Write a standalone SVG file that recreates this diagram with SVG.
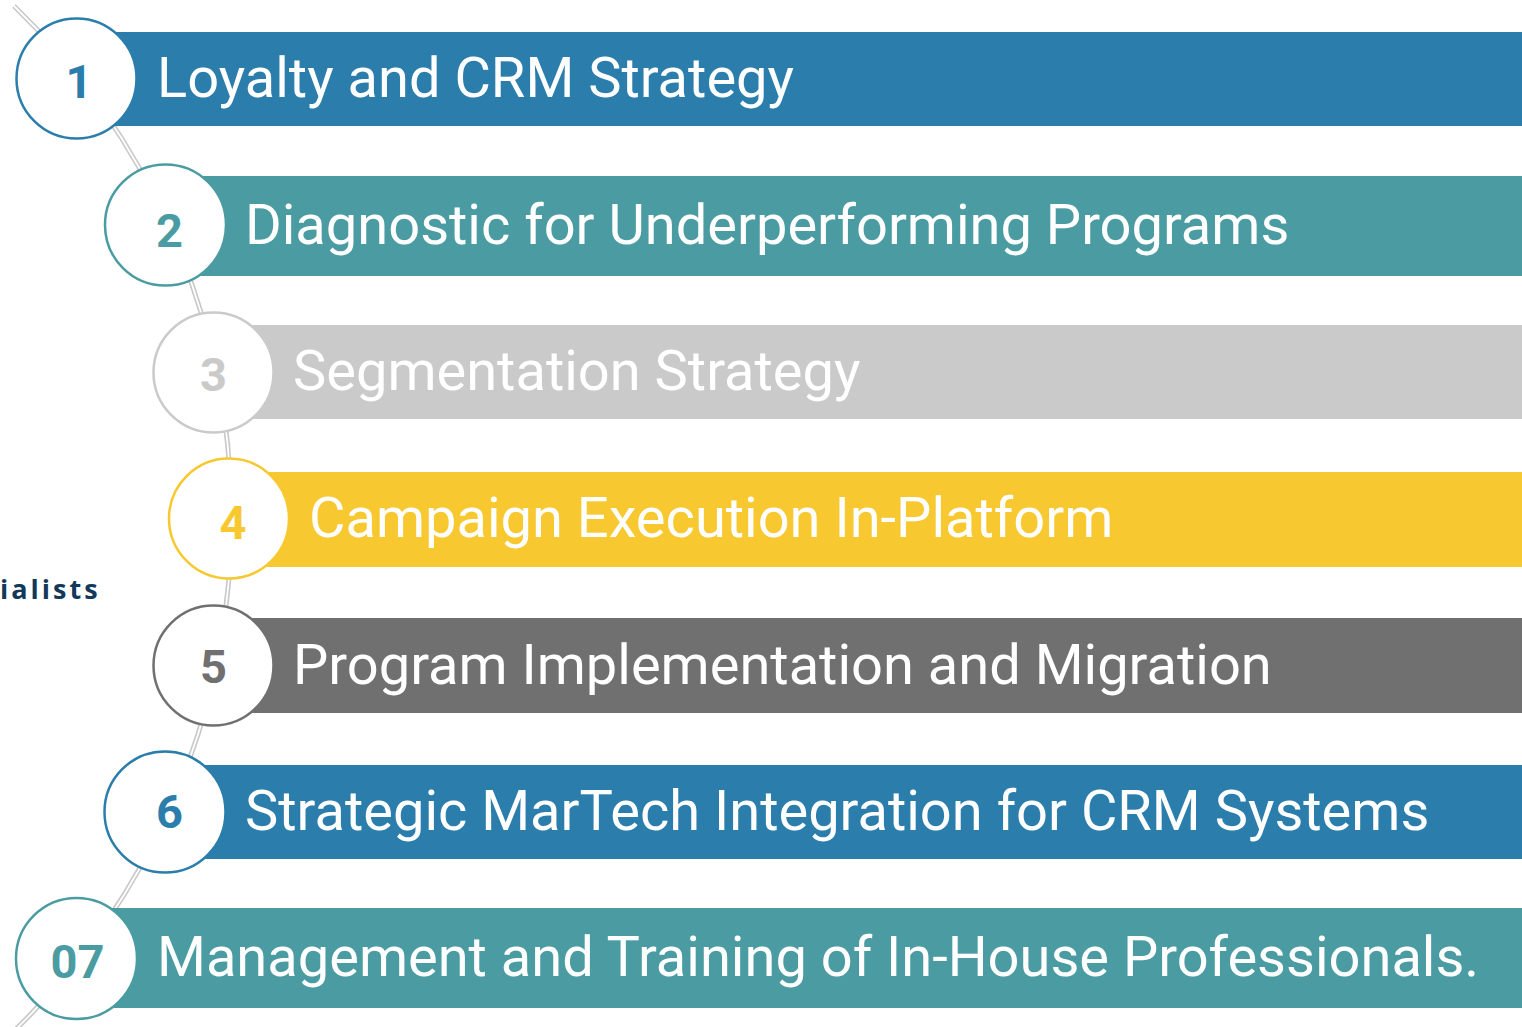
<svg xmlns="http://www.w3.org/2000/svg" width="1522" height="1027" viewBox="0 0 1522 1027">
<style>
.bar-text{font-family:Roboto,"Liberation Sans",sans-serif;font-size:56px;fill:#ffffff}
.num{font-family:Roboto,"Liberation Sans",sans-serif;font-size:47px;font-weight:700;text-anchor:middle}
.ring{fill:#ffffff;stroke-width:2.5}
.c-blue{fill:#2b7dab}
.c-teal{fill:#4a9ca2}
.c-lgray{fill:#cacaca}
.c-yellow{fill:#f7c82f}
.c-dgray{fill:#707070}
</style>
<rect width="1522" height="1027" fill="#ffffff"/>
<g id="connectors">
<path d="M 14 6 A 712.8 712.8 0 0 1 14 1031" fill="none" stroke="#c8c8c8" stroke-width="5"/>
<path d="M 14 6 A 712.8 712.8 0 0 1 14 1031" fill="none" stroke="#ffffff" stroke-width="1.8"/>
</g>
<text x="0" y="599" font-family="'Open Sans','DejaVu Sans',sans-serif" font-size="27" font-weight="700" letter-spacing="3" fill="#12395a">ialists</text>
<g id="node1">
<rect x="77" y="32" width="1445" height="94" class="c-blue"/>
<circle cx="76.5" cy="78.5" r="60" class="ring" stroke="#2b7dab"/>
<text x="79" y="98" class="num c-blue">1</text>
<text x="157" y="97" class="bar-text">Loyalty and CRM Strategy</text>
</g>
<g id="node2">
<rect x="165" y="176" width="1357" height="100" class="c-teal"/>
<circle cx="165.5" cy="225" r="60.5" class="ring" stroke="#4a9ca2"/>
<text x="169.5" y="247" class="num c-teal">2</text>
<text x="245" y="244" class="bar-text">Diagnostic for Underperforming Programs</text>
</g>
<g id="node3">
<rect x="213" y="325" width="1309" height="94" class="c-lgray"/>
<circle cx="213.5" cy="372.5" r="60" class="ring" stroke="#cacaca"/>
<text x="213.5" y="391" class="num c-lgray">3</text>
<text x="293" y="390" class="bar-text">Segmentation Strategy</text>
</g>
<g id="node4">
<rect x="229" y="472" width="1293" height="95" class="c-yellow"/>
<circle cx="229" cy="518.5" r="60" class="ring" stroke="#f7c82f"/>
<text x="233" y="539" class="num c-yellow">4</text>
<text x="309" y="537" class="bar-text">Campaign Execution In-Platform</text>
</g>
<g id="node5">
<rect x="213" y="618" width="1309" height="95" class="c-dgray"/>
<circle cx="213.5" cy="665.5" r="60" class="ring" stroke="#707070"/>
<text x="213.5" y="683" class="num c-dgray">5</text>
<text x="293" y="684" class="bar-text">Program Implementation and Migration</text>
</g>
<g id="node6">
<rect x="165" y="765" width="1357" height="94" class="c-blue"/>
<circle cx="165" cy="812" r="60.5" class="ring" stroke="#2b7dab"/>
<text x="169.5" y="828" class="num c-blue">6</text>
<text x="245" y="830" class="bar-text">Strategic MarTech Integration for CRM Systems</text>
</g>
<g id="node7">
<rect x="77" y="908" width="1445" height="100" class="c-teal"/>
<circle cx="76.5" cy="958.5" r="60.5" class="ring" stroke="#4a9ca2"/>
<text x="77.5" y="978" class="num c-teal">07</text>
<text x="157" y="976" class="bar-text">Management and Training of In-House Professionals.</text>
</g>
</svg>
